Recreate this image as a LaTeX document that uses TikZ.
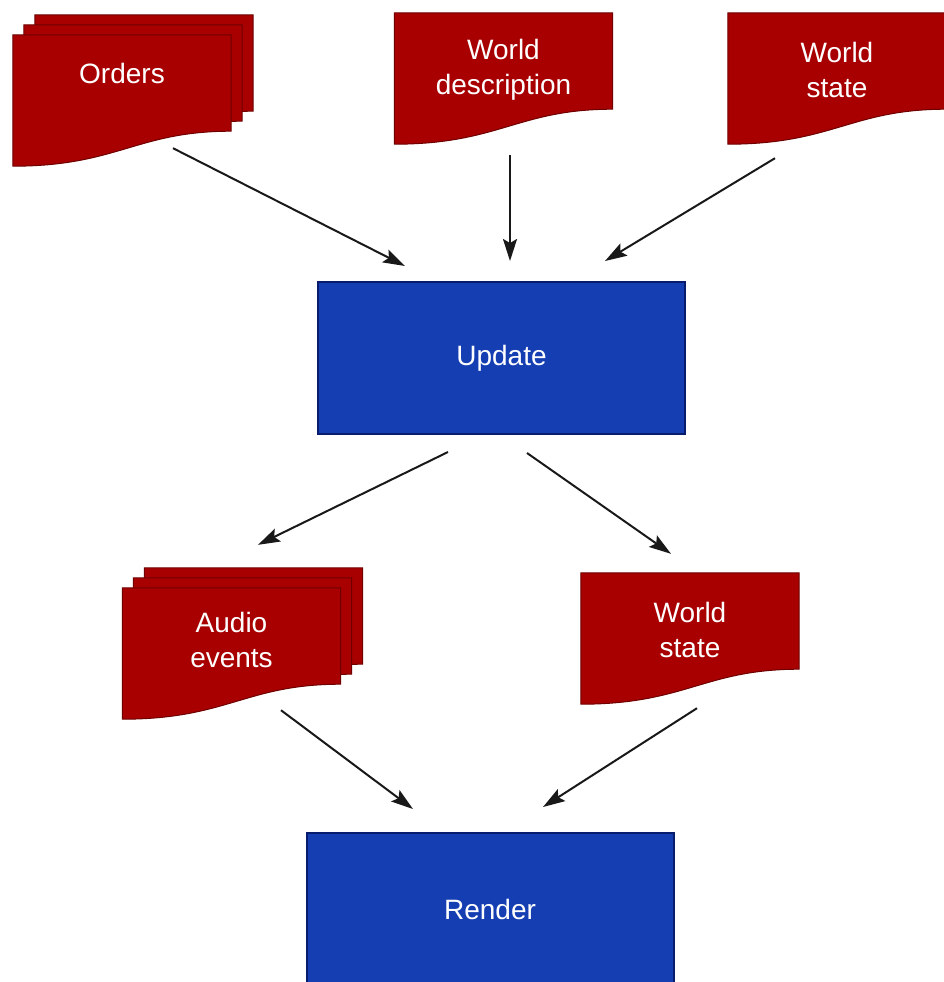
\documentclass[tikz,border=0pt]{standalone}
\usepackage{fontspec}
\setmainfont{Liberation Sans}
\usetikzlibrary{arrows.meta,calc,backgrounds}

\definecolor{docred}{RGB}{168,0,0}
\definecolor{docedge}{RGB}{110,0,0}
\definecolor{stageblue}{RGB}{20,62,178}
\definecolor{stageedge}{RGB}{8,28,110}

% sheet with a wavy bottom, drawn round a doc node (#1), shifted by #2
\newcommand{\docsheet}[2]{%
  \filldraw[sheet] ($(#1.north west)+(#2)$) -- ($(#1.north east)+(#2)$)
    -- ($(#1.south east)+(#2)$) .. controls +(-95,0) and +(105,0) .. ($(#1.south west)+(#2)+(0,35)$) -- cycle;}

\begin{document}
\begin{tikzpicture}
  [x=1pt,y=-1pt,
   every node/.style={text=white,font=\fontsize{28}{35}\selectfont,align=center},
   doc/.style={minimum width=218pt,minimum height=96pt,inner sep=0pt},
   sheet/.style={fill=docred,draw=docedge,line width=1pt},
   stage/.style={fill=stageblue,draw=stageedge,line width=2pt,minimum width=367pt,minimum height=152pt},
   arrow/.style={-{Stealth[length=22pt,width=14pt,inset=4pt]},line width=2pt,draw=black!90}]
  \useasboundingbox (0,0) rectangle (943,982);

  % the text sits a little off the middle of each sheet
  \node[doc,label={[yshift=10pt]center:Orders}] (orders) at (122,83) {};
  \node[doc,label={[yshift=-9pt]center:World\\description}] (wdesc) at (503.5,61) {};
  \node[doc,label={[yshift=-9pt]center:World\\state}] (wstate) at (837,61) {};
  \node[stage] (update) at (501.5,358) {Update};
  \node[doc,label={[yshift=-4pt]center:Audio\\events}] (audio) at (231.5,636) {};
  \node[doc,label={[yshift=-9pt]center:World\\state}] (wstate2) at (690,621) {};
  \node[stage] (render) at (490,909) {Render};

  \begin{scope}[on background layer]
    \foreach \n in {orders,audio} {\docsheet{\n}{22,-20} \docsheet{\n}{11,-10}}
    \foreach \n in {orders,wdesc,wstate,audio,wstate2} {\docsheet{\n}{0,0}}
  \end{scope}

\foreach \from/\dfrom/\to/\dto in
{orders/{51,17}/update/{-96.5,-15}, wdesc/{6.5,46}/update/{8.5,-20}, wstate/{-62,49}/update/{103.5,-20}}
    \draw[arrow] ($(\from.south)+(\dfrom)$) -- ($(\to.north)+(\dto)$);
\foreach \from/\dfrom/\to/\dto in
{update/{-53.5,17}/audio/{26.5,-43}, update/{25.5,18}/wstate2/{-19,-19},
 audio/{49.5,26}/render/{-77,-23}, wstate2/{7,39}/render/{53,-25}}
    \draw[arrow] ($(\from.south)+(\dfrom)$) -- ($(\to.north)+(\dto)$);
\end{tikzpicture}
\end{document}
